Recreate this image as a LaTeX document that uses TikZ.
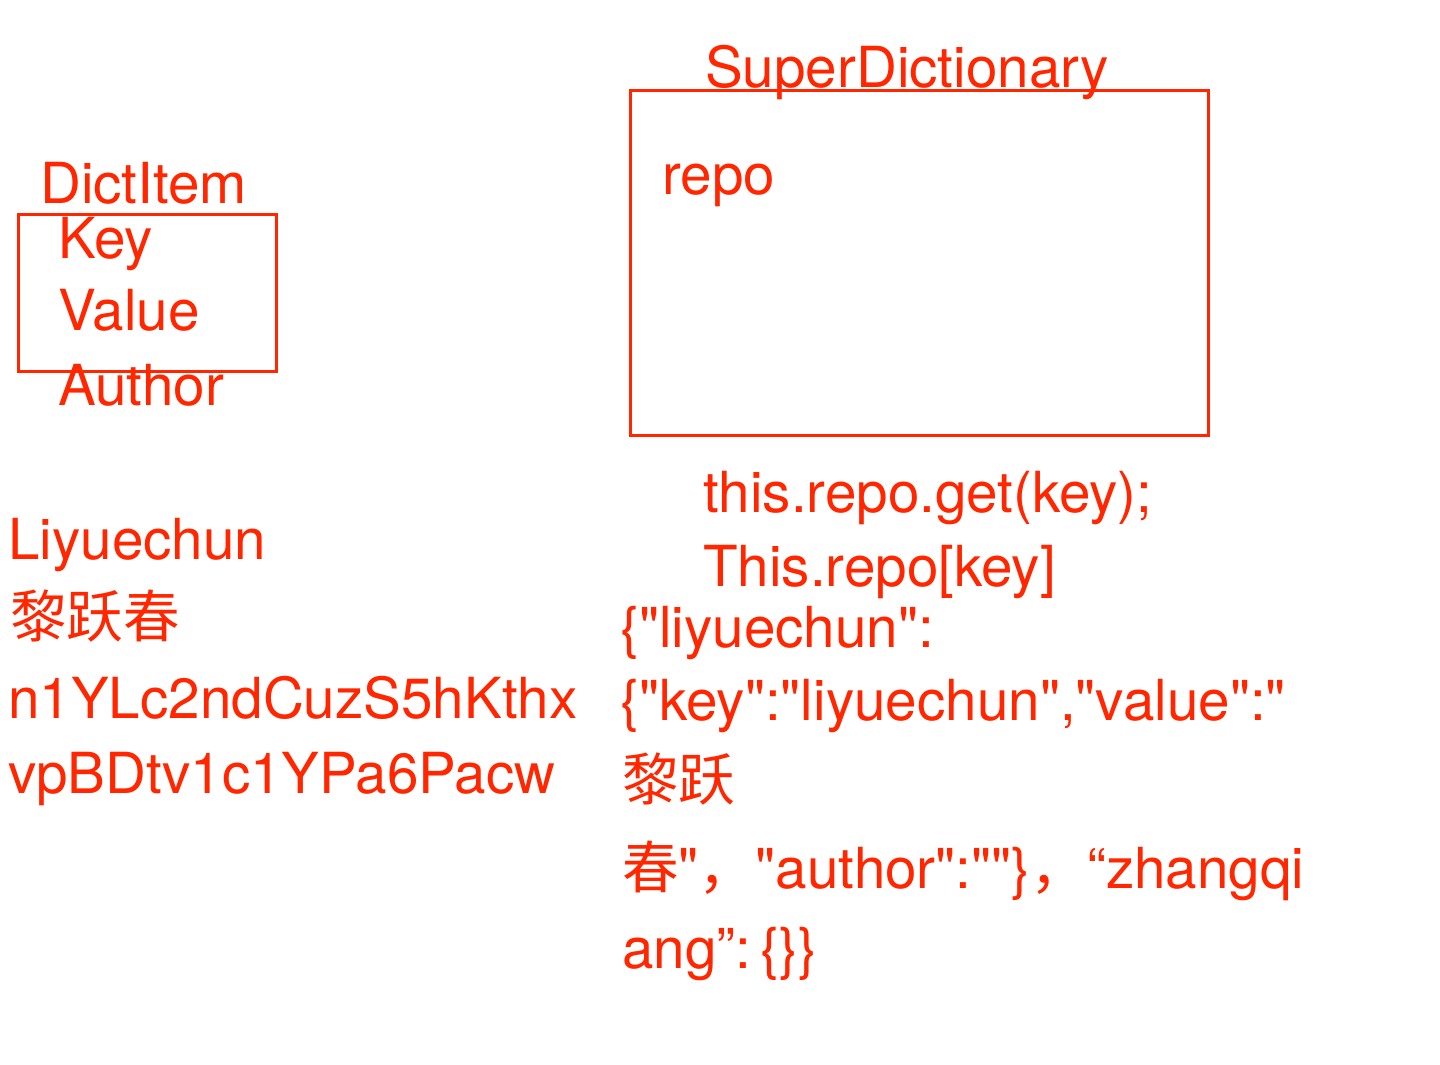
\documentclass[tikz,border=0pt]{standalone}
\usepackage{fontspec}
\setmainfont{TeX Gyre Heros}[Ligatures=TeXOff]
\newfontfamily\cjk{Noto Sans CJK SC}
\usepackage{tikz}
\usetikzlibrary{positioning}
\definecolor{NoteRed}{RGB}{255,38,0}
\tikzset{
	boxline/.style={line width=3pt, draw=NoteRed},
	txt/.style={text=NoteRed, anchor=base west, inner sep=0pt,
		font=\fontsize{56.6}{68}\selectfont}
}

\begin{document}
\begin{tikzpicture}[x=1pt, y=-1pt]
		\useasboundingbox (0,0) rectangle (1440,1065);
		% DictItem
		\node[txt] (itemtitle) at (40,203) {DictItem};
		\draw[boxline] (18,214) rectangle (276,371);
		\node[txt] (key) at (58,258) {Key};
		\node[txt] (value) at (58,330) {Value};
		\node[txt] (author) at (58,405) {Author};
		% SuperDictionary
		\node[txt] (dicttitle) at (705,87) {SuperDictionary};
		\draw[boxline] (630,90) rectangle (1208,435);
		\node[txt] (repo) at (662,194) {repo};
		% sample item
		\node[txt] (name) at (8,559) {Liyuechun};
		\node[txt] (cname) at (10,637) {\cjk 黎跃春};
		\node[txt] (hash1) at (8,718) {n1YLc2ndCuzS5hKthx};
		\node[txt] (hash2) at (8,793) {vpBDtv1c1YPa6Pacw};
		% access
		\node[txt] (get) at (703,512) {this.repo.get(key);};
		\node[txt] (index) at (703,586) {This.repo[key]};
		\node[txt] (json1) at (620,647) {\{"liyuechun":};
		\node[txt] (json2) at (620,720) {\{"key":"liyuechun","value":"};
		\node[txt] (json3) at (622,800) {\cjk 黎跃};
		\node[txt] (json4) at (622,888) {{\cjk 春}"{\cjk ，}"author":""\}{\cjk ，}“zhangqi};
		\node[txt] (json5) at (622,968) {ang”:\,\{\}\}};
	\end{tikzpicture}
\end{document}
